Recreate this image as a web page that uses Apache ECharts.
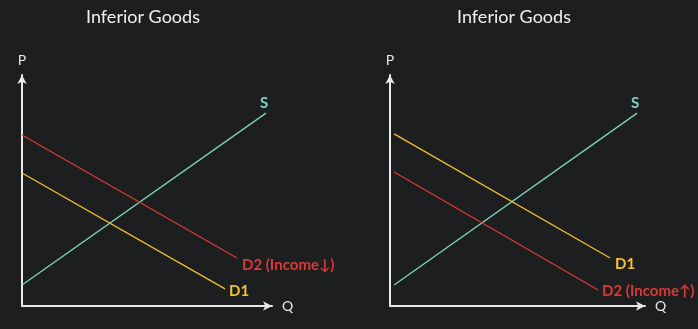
<!DOCTYPE html>
<html><head><meta charset="utf-8">
<script src="https://cdn.jsdelivr.net/npm/echarts@6/dist/echarts.min.js"></script>
<style>html,body{margin:0;padding:0;background:#1d1e20;}#c{width:698px;height:329px;}</style>
</head><body><div id="c"></div>
<script>
// Data (Q, P) endpoints for each curve, in axis units 0..10
const titles = ['Inferior Goods', 'Inferior Goods'];
const leftS  = [[0, 0.91], [9.76, 8.35]];
const leftD2 = [[0, 7.40], [8.6, 2.08]];
const leftD1 = [[0, 5.76], [8.12, 0.74]];
const rightS  = [[0.16, 0.91], [9.69, 8.35]];
const rightD1 = [[0.16, 7.45], [8.63, 2.08]];
const rightD2 = [[0.16, 5.80], [8.16, 0.69]];
const labelsLeft  = {S: 'S', D2: 'D2 (Income\u2193)', D1: 'D1'};
const labelsRight = {S: 'S', D1: 'D1', D2: 'D2 (Income\u2191)'};

const RED = '#d93a37', YEL = '#f2c12e', TEAL = '#7ed3bd', AX = '#e8e8e8';
const FONT = 'Lato';

function axisX(i) {
  return {type: 'value', gridIndex: i, min: 0, max: 10, name: 'Q', nameGap: 10,
    nameTextStyle: {color: '#e8e8e8', fontSize: 14, fontFamily: FONT, verticalAlign: 'middle'},
    axisLine: {show: true, symbol: ['none', 'arrow'], symbolSize: [7, 9], symbolOffset: [0, 0], lineStyle: {color: AX, width: 2}},
    axisTick: {show: false}, axisLabel: {show: false}, splitLine: {show: false}};
}
function axisY(i) {
  return {type: 'value', gridIndex: i, min: 0, max: 10, name: 'P', nameGap: 8,
    nameTextStyle: {color: '#e8e8e8', fontSize: 14, fontFamily: FONT, align: 'center'},
    axisLine: {show: true, symbol: ['none', 'arrow'], symbolSize: [7, 9], lineStyle: {color: AX, width: 2}},
    axisTick: {show: false}, axisLabel: {show: false}, splitLine: {show: false}};
}
function line(i, data, color, text, off) {
  return {type: 'line', xAxisIndex: i, yAxisIndex: i, data: data, showSymbol: false, symbol: 'none',
    lineStyle: {color: color, width: 1.3}, silent: true, animation: false,
    endLabel: {show: true, formatter: text, color: color, fontSize: 15, fontWeight: 'bold', fontFamily: FONT,
      offset: off || [0, 0]}};
}
const chart = echarts.init(document.getElementById('c'));
chart.setOption({
  backgroundColor: '#1d1e20',
  animation: false,
  title: [
    {text: titles[0], left: 138, top: 3, textAlign: 'center', textStyle: {color: '#f0f0f0', fontSize: 18, fontWeight: 'normal', fontFamily: FONT}},
    {text: titles[1], left: 509, top: 3, textAlign: 'center', textStyle: {color: '#f0f0f0', fontSize: 18, fontWeight: 'normal', fontFamily: FONT}}
  ],
  grid: [
    {left: 22, top: 75, width: 250, height: 231},
    {left: 390, top: 75, width: 255, height: 231}
  ],
  xAxis: [axisX(0), axisX(1)],
  yAxis: [axisY(0), axisY(1)],
  series: [
    line(0, leftS, TEAL, labelsLeft.S, [-14, -10]),
    line(0, leftD2, RED, labelsLeft.D2, [-3, 7]),
    line(0, leftD1, YEL, labelsLeft.D1, [-4, 2]),
    line(1, rightS, TEAL, labelsRight.S, [-14, -10]),
    line(1, rightD1, YEL, labelsRight.D1, [-3, 6]),
    line(1, rightD2, RED, labelsRight.D2, [-4, 1])
  ]
});
</script></body></html>
